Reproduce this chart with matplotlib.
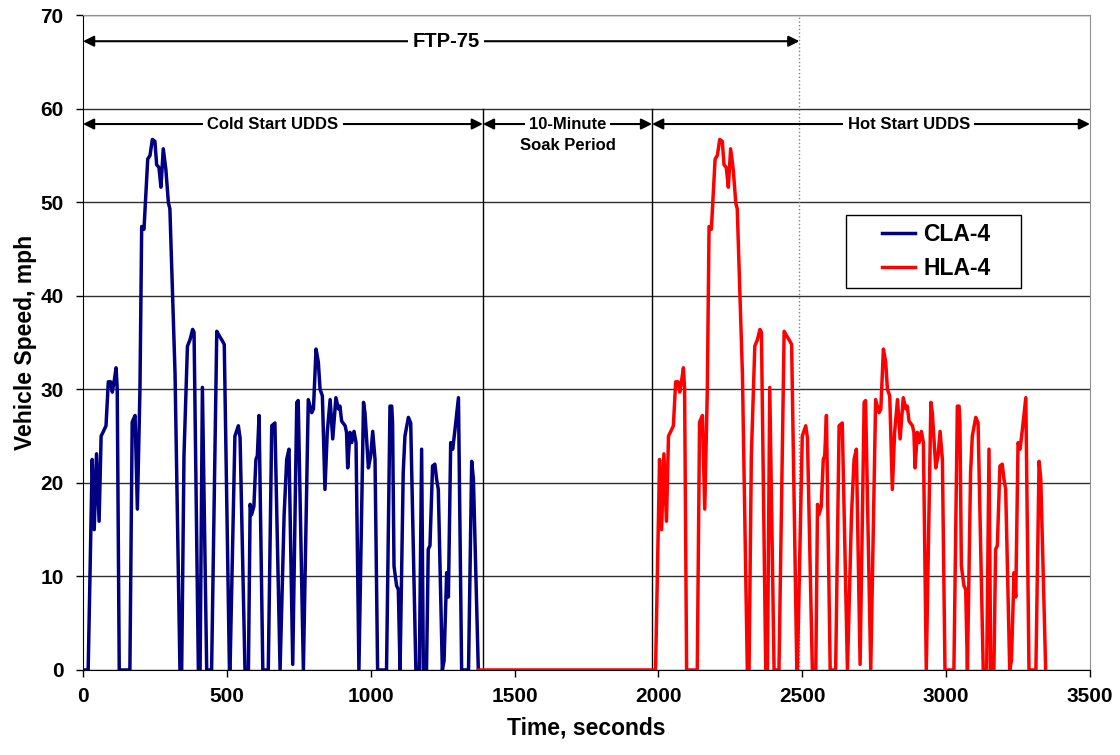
import matplotlib
matplotlib.use('Agg')
import matplotlib.pyplot as plt
from matplotlib.patches import Rectangle
import numpy as np

plt.rcParams['font.family'] = ['Liberation Sans', 'DejaVu Sans']
plt.rcParams['font.weight'] = 'bold'

# UDDS speed trace (time s, speed mph)
udds_t = [0, 18, 32, 39, 47, 56, 63, 71, 80, 88, 96, 102, 109, 115, 119, 126,
          163, 171, 181, 189, 198, 204, 212, 225, 233, 241, 250, 256, 264, 271,
          279, 288, 297, 302, 320, 337,
          343, 351, 363, 372, 381, 386, 401, 407, 415, 430, 447, 465, 474, 482,
          491, 509, 511, 528, 540, 546, 563, 575, 581, 586, 594, 601, 606, 612,
          625, 644, 656, 667, 685,
          699, 708, 716, 729, 743, 748, 766, 783, 795, 801, 810, 818, 824, 832,
          841, 849, 859, 868, 879, 888, 893, 899, 911, 916, 920, 928, 934, 942,
          949, 959, 975, 980, 992, 1000, 1007, 1015, 1024, 1055,
          1067, 1073, 1076, 1081, 1090, 1096, 1102, 1113, 1119, 1131, 1139,
          1157, 1169, 1177, 1183, 1194, 1200, 1206, 1215, 1223, 1229, 1235,
          1249, 1255, 1264, 1270, 1278, 1285, 1293, 1305, 1316, 1340, 1351,
          1357, 1374]
udds_v = [0, 0, 22.5, 15.0, 23.1, 15.9, 25.0, 25.5, 26.1, 30.8, 30.8, 29.7, 31.0,
          32.3, 30.0, 0,
          0, 26.5, 27.2, 17.2, 30.0, 47.4, 47.1, 54.6, 55.0, 56.7, 56.5, 54.0,
          53.7, 51.6, 55.7, 53.5, 49.9, 49.3, 31.6, 0,
          0, 22.9, 34.6, 35.3, 36.4, 36.1, 0, 0, 30.2, 0, 0, 36.2, 35.7, 35.3,
          34.8, 0, 0, 25.0, 26.1, 24.8, 0, 0, 17.7, 16.6, 17.5, 22.5, 22.9, 27.2,
          0, 0, 26.1, 26.4, 0,
          16.5, 22.5, 23.6, 0.6, 28.6, 28.8, 0, 28.9, 27.5, 27.9, 34.3, 32.9,
          30.0, 29.3, 19.3, 25.4, 28.9, 24.7, 29.1, 27.9, 28.2, 26.6, 26.1, 25.4,
          21.6, 25.4, 24.3, 25.5, 24.3, 0, 28.6, 27.5, 21.6, 22.9, 25.5, 22.5,
          0, 0,
          28.2, 28.2, 26.4, 11.1, 9.0, 8.6, 0, 21.1, 25.0, 27.0, 26.4,
          0, 0, 23.6, 0, 0, 12.9, 13.3, 21.8, 22.0, 20.4, 19.3,
          0, 1.0, 10.4, 7.8, 24.3, 23.6, 25.7, 29.1, 0, 0, 22.3,
          20.4, 0]

hot_offset = 1972
soak_start = 1390
soak_end = 1978
ftp_end = 2490

cold_t = np.array(udds_t)
cold_v = np.array(udds_v)
hot_t = np.concatenate([[1374], cold_t + hot_offset])
hot_v = np.concatenate([[0], cold_v])

fig = plt.figure(figsize=(11.2, 7.55), dpi=100)
ax = fig.add_axes([0.0741, 0.1126, 0.8991, 0.8675])

ax.plot(cold_t, cold_v, color='#000080', linewidth=2.5, label='CLA-4', zorder=3)
ax.plot(hot_t, hot_v, color='#FF0000', linewidth=2.5, label='HLA-4', zorder=3)

ax.set_xlim(0, 3500)
ax.set_ylim(0, 70)
ax.set_xticks(np.arange(0, 3501, 500))
ax.set_yticks(np.arange(0, 71, 10))
ax.yaxis.grid(True, color='#303030', linewidth=1)
ax.set_axisbelow(True)
ax.tick_params(labelsize=15, direction='out', length=5, width=1)
ax.tick_params(axis='y', pad=9)
ax.tick_params(axis='x', pad=7)
for lab in ax.get_xticklabels() + ax.get_yticklabels():
    lab.set_fontweight('bold')
ax.set_xlabel('Time, seconds', fontsize=16.5, fontweight='bold', labelpad=8)
ax.set_ylabel('Vehicle Speed, mph', fontsize=16.5, fontweight='bold', labelpad=2)

for s in ['top', 'right']:
    ax.spines[s].set_color('#909090')
for s in ['left', 'bottom']:
    ax.spines[s].set_color('black')

# phase markers
ax.plot([soak_start, soak_start], [0, 60], color='black', lw=1, zorder=2)
ax.plot([soak_end, soak_end], [0, 60], color='black', lw=1, zorder=2)
ax.plot([ftp_end, ftp_end], [0, 70], color='#808080', lw=1, ls=':', zorder=2)

arrow = dict(arrowstyle='<|-|>', color='black', lw=1.5, shrinkA=0, shrinkB=0,
             mutation_scale=16)
box = dict(facecolor='white', edgecolor='none', pad=3)


def span(x0, x1, y, text, xt, size):
    ax.annotate('', xy=(x1, y), xytext=(x0, y), arrowprops=arrow, zorder=4)
    ax.text(xt, y, text, ha='center', va='center',
            fontsize=size, fontweight='bold', bbox=box, zorder=5)


span(0, ftp_end, 67.2, 'FTP-75', 1262, 14.5)
span(0, soak_start, 58.35, 'Cold Start UDDS', 660, 12)
span(soak_start, soak_end, 58.35, '10-Minute', 1684, 12)
ax.text(1684, 56.1, 'Soak Period', ha='center', va='center', fontsize=12,
        fontweight='bold', zorder=5)
span(soak_end, 3500, 58.35, 'Hot Start UDDS', 2870, 12)

# legend box drawn separately so it can be wider than its entries
ax.add_patch(Rectangle((0.7574, 0.5832), 0.1741, 0.1115, transform=ax.transAxes,
                       facecolor='white', edgecolor='black', lw=1, zorder=6))
leg = ax.legend(loc='center left', bbox_to_anchor=(0.7934, 0.639),
                prop={'weight': 'bold', 'size': 16.5}, frameon=False,
                handlelength=1.45, handletextpad=0.35, borderpad=0,
                labelspacing=0.45, borderaxespad=0)
leg.set_zorder(7)

fig.savefig('out.png', dpi=100)
